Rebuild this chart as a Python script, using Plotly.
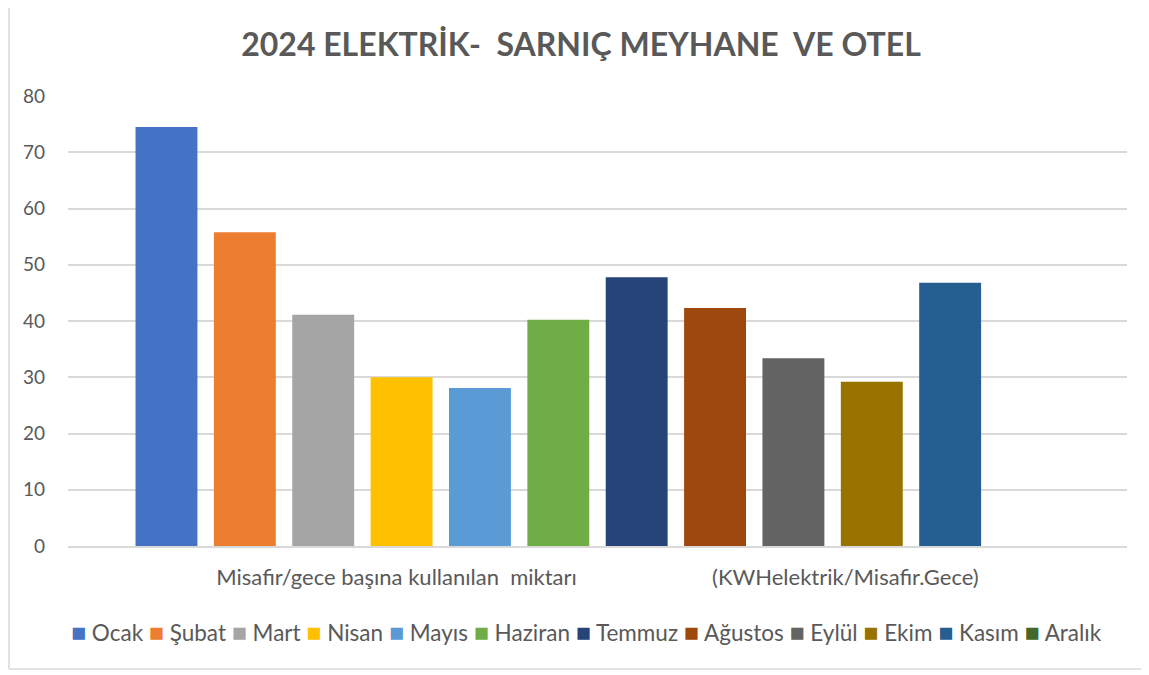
import plotly.graph_objects as go

months = ["Ocak", "Şubat", "Mart", "Nisan", "Mayıs", "Haziran",
          "Temmuz", "Ağustos", "Eylül", "Ekim", "Kasım", "Aralık"]
values = [74.5, 55.8, 41.1, 30.0, 28.1, 40.2, 47.8, 42.3, 33.4, 29.2, 46.8, None]
colors = ["#4472C4", "#ED7D31", "#A5A5A5", "#FFC000", "#5B9BD5", "#70AD47",
          "#264478", "#9E480E", "#636363", "#997300", "#255E91", "#43682B"]
category = ["Misafir/gece başına kullanılan\u00a0\u00a0miktarı"
            + "\u00a0" * 24 + "(KWHelektrik/Misafir.Gece)"]
y_ticks = [0, 10, 20, 30, 40, 50, 60, 70, 80]

OFF = 8  # page body margin pushes the figure by 8px
W, H = 1149 - OFF, 675 - OFF
ML, MR, MT, MB = 68 - OFF, 22, 96 - OFF, 129
pw, ph = W - ML - MR, H - MT - MB
plot_bottom = H - MB  # in figure px


def py(screen_y):
    return (plot_bottom - (screen_y - OFF)) / ph


def px(screen_x):
    return (screen_x - OFF - ML) / pw


fig = go.Figure()
for name, val, col in zip(months, values, colors):
    fig.add_trace(go.Bar(x=category, y=[val], name=name, showlegend=False,
                         marker=dict(color=col, line=dict(width=0))))

# legend drawn as one line of text: coloured square + month name
legend_text = "\u00a0".join(
    f"<span style='color:{c};font-size:25px'>■</span>\u00a0{m}"
    for m, c in zip(months, colors))

border = dict(color="#D9D9D9", width=1.5)

fig.update_layout(
    width=W, height=H,
    margin=dict(l=ML, r=MR, t=MT, b=MB),
    paper_bgcolor="white", plot_bgcolor="white",
    font=dict(family="Lato, Open Sans, sans-serif", color="#595959", size=18),
    title=dict(text="<b>2024 ELEKTRİK-\u00a0\u00a0SARNIÇ MEYHANE\u00a0\u00a0VE OTEL</b>",
               x=(581 - OFF) / W, xanchor="center", y=1 - (45 - OFF) / H,
               yanchor="middle", font=dict(size=32, color="#595959")),
    barmode="group", bargap=0.112, bargroupgap=0.21,
    annotations=[dict(text=legend_text, xref="paper", yref="paper",
                      x=px(586), y=py(631),
                      xanchor="center", yanchor="middle", showarrow=False,
                      font=dict(size=22.5, color="#595959"))],
    shapes=[
        dict(type="line", xref="paper", yref="paper",
             x0=px(OFF + 1), x1=px(OFF + 1), y0=py(669), y1=py(0), line=border),
        dict(type="line", xref="paper", yref="paper",
             x0=px(OFF + 1), x1=px(1148), y0=py(669), y1=py(669), line=border),
    ],
)
fig.update_xaxes(showline=True, linecolor="#D9D9D9", linewidth=1.5,
                 ticks="", ticklabelstandoff=11,
                 tickfont=dict(size=22, color="#595959"), showgrid=False)
fig.update_yaxes(range=[0, 80], tickvals=y_ticks, showgrid=True,
                 gridcolor="#D9D9D9", gridwidth=1.5, zeroline=False,
                 ticks="", ticklabelstandoff=22, tickfont=dict(size=19, color="#595959"))

fig.write_html("out.html")
